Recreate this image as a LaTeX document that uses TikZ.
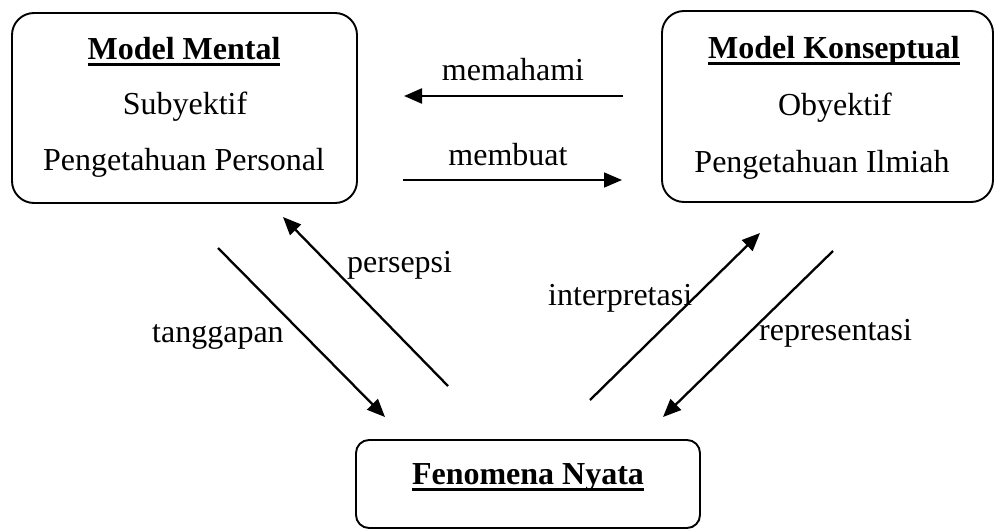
\documentclass[tikz,border=0pt]{standalone}
\usepackage{fontspec}
\setmainfont{Liberation Serif}
\usetikzlibrary{arrows.meta}
\newcommand{\thickul}[1]{\setbox0\hbox{#1}\rlap{\rule[-7pt]{\wd0}{2.8pt}}\box0}
\begin{document}
\begin{tikzpicture}[x=1pt,y=-1pt,
  box/.style={draw, line width=1.9pt, rounded corners=#1, inner sep=0pt},
  box/.default=22pt,
  txt/.style={anchor=base, inner sep=0pt, font=\fontsize{32}{37}\selectfont},
  lbl/.style={anchor=base west, inner sep=0pt, font=\fontsize{32}{37}\selectfont},
  arr/.style={line width=2.3pt, -{Triangle[length=18pt,width=15pt]}}]
\useasboundingbox (0,0) rectangle (995,530);
% boxes
\node[box, minimum width=345pt, minimum height=190pt] (mental) at (184.5,108) {};
\node[box, minimum width=331pt, minimum height=191pt] (konsep) at (827.5,106.5) {};
\node[box=13pt, minimum width=344pt, minimum height=88pt] (fenomena) at (528,484) {};
% box texts
\node[txt] (mt1) at (184,59) {\thickul{\textbf{Model Mental}}};
\node[txt] (mt2) at (185,114) {Subyektif};
\node[txt] (mt3) at (184,170) {Pengetahuan Personal};
\node[txt] (kt1) at (834,58) {\thickul{\textbf{Model Konseptual}}};
\node[txt] (kt2) at (835,115) {Obyektif};
\node[txt] (kt3) at (822,172) {Pengetahuan Ilmiah};
\node[txt] (ft1) at (528,484) {\thickul{\textbf{Fenomena Nyata}}};
% arrow end points
\coordinate (mhA) at (623,96);
\coordinate (mhB) at (404,96);
\coordinate (mbA) at (403,180);
\coordinate (mbB) at (622,180);
\coordinate (tgA) at (218,248);
\coordinate (tgB) at (385,417);
\coordinate (psA) at (448,386);
\coordinate (psB) at (283,217);
\coordinate (inA) at (590,400);
\coordinate (inB) at (760,233);
\coordinate (rpA) at (833,251);
\coordinate (rpB) at (663,417);
% arrows
\draw[arr] (mhA) -- (mhB);
\draw[arr, line width=1.6pt] (mbA) -- (mbB);
\draw[arr] (tgA) -- (tgB);
\draw[arr] (psA) -- (psB);
\draw[arr] (inA) -- (inB);
\draw[arr] (rpA) -- (rpB);
% labels
\node[txt] (l1) at (513,80) {memahami};
\node[txt] (l2) at (508,165) {membuat};
\node[lbl] (l3) at (152,342) {tanggapan};
\node[lbl] (l4) at (347,272) {persepsi};
\node[lbl] (l5) at (548,305) {interpretasi};
\node[lbl] (l6) at (759,340) {representasi};
\end{tikzpicture}
\end{document}
